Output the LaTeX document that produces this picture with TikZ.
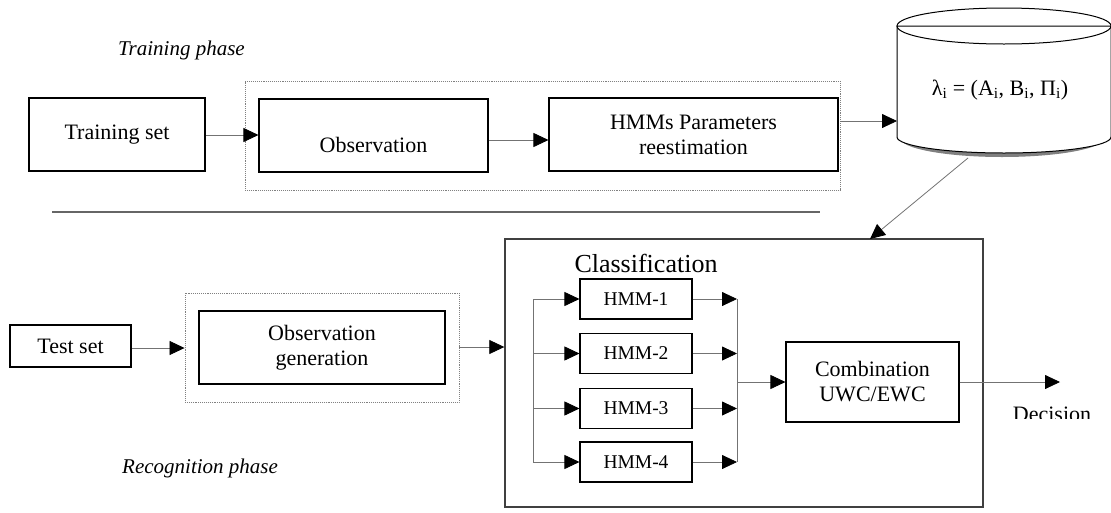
\documentclass[tikz,border=0pt]{standalone}
\usepackage{fontspec}
\setmainfont{Liberation Serif}
\usetikzlibrary{arrows.meta}
\begin{document}
\begin{tikzpicture}[x=1pt,y=-1pt,
  box/.style={draw=black, line width=1.1pt, fill=white, inner sep=0pt, align=center, font=\fontsize{22}{25}\selectfont},
  hmmbox/.style={box, minimum width=112pt, minimum height=40pt, font=\fontsize{19.5}{22}\selectfont},
  frame/.style={draw=black!50, densely dotted, line width=0.9pt, inner sep=0pt},
  conn/.style={draw=black!55, line width=0.8pt},
  arr/.style={conn, -{Triangle[length=15pt,width=14pt,color=black]}},
  lbl/.style={inner sep=0pt, align=center, font=\fontsize{22}{25}\selectfont},
  phase/.style={inner sep=0pt, anchor=base west, font=\fontsize{21}{25}\selectfont\itshape}]
\useasboundingbox (0,0) rectangle (1111,512);

% phase labels
\node[phase] (tp) at (118,55) {Training phase};
\node[phase] (rp) at (122,473) {Recognition phase};

% training row
\node[box, minimum width=176pt, minimum height=73pt] (trainset) at (117,134.5) {Training set};
\node[frame, minimum width=595pt, minimum height=109pt] (f1) at (542.5,135.5) {};
\node[box, minimum width=229pt, minimum height=73pt] (obs) at (373.5,135.5) {};
\node[lbl] (obslbl) at (373.5,145) {Observation};
\node[box, minimum width=289pt, minimum height=73pt] (hmmp) at (693.5,134.5) {HMMs Parameters\\reestimation};

% database cylinder
\fill[black!50] (900,138) arc[start angle=180, end angle=360, x radius=102pt, y radius=19pt] -- cycle;
\filldraw[draw=black, line width=1pt, fill=white] (897,26) -- (897,137)
  arc[start angle=180, end angle=360, x radius=107pt, y radius=16pt] -- (1111,26) -- cycle;
\draw[line width=1pt] (1004,26) ellipse [x radius=107pt, y radius=18pt];
\node[lbl] (lam) at (1000,90) {λ\textsubscript{i} = (A\textsubscript{i}, B\textsubscript{i}, Π\textsubscript{i})};
\coordinate (dbin) at (897,121);
\coordinate (dbout) at (968,158);

% separator
\draw[draw=black!60, line width=1.3pt] (52,212) -- (820,212);

% recognition row
\node[box, minimum width=121pt, minimum height=42pt] (testset) at (70.5,346) {Test set};
\node[frame, minimum width=274pt, minimum height=109pt] (f2) at (322,347.5) {};
\node[box, minimum width=246pt, minimum height=73pt] (obsgen) at (322,347.5) {Observation\\generation};

% classification
\node[draw=black!75, line width=1.4pt, minimum width=478pt, minimum height=268pt, inner sep=0pt] (cls) at (744,373) {};
\node[inner sep=0pt, font=\fontsize{26}{30}\selectfont] (clslbl) at (646,263) {Classification};
\node[hmmbox] (h1) at (636,299) {HMM-1};
\node[hmmbox] (h2) at (636,353.5) {HMM-2};
\node[hmmbox] (h3) at (636,408.5) {HMM-3};
\node[hmmbox] (h4) at (636,462) {HMM-4};
\node[box, minimum width=173pt, minimum height=80pt] (comb) at (872.5,382) {Combination\\UWC/EWC};

\coordinate (lb1) at (533,299);
\coordinate (lb4) at (533,462);
\coordinate (rb1) at (737,299);
\coordinate (rb4) at (737,462);
\coordinate (rbm) at (737,382);
\coordinate (dec) at (1060,382);

\begin{scope}
\clip (990,395) rectangle (1111,418);
\node[lbl, anchor=base] (declbl) at (1052,421.5) {Decision};
\end{scope}

% connectors
\draw[arr] (trainset.east |- 0,135) -- (obs.west |- 0,135);
\draw[arr] (obs.east |- 0,140) -- (hmmp.west |- 0,140);
\draw[arr] (f1.east |- dbin) -- (dbin);
\draw[arr] (dbout) -- (870,239);
\draw[arr] (testset.east |- 0,348) -- (f2.west |- 0,348);
\draw[arr] (f2.east |- 0,347) -- (cls.west |- 0,347);

\draw[conn] (lb1) -- (lb4);
\draw[arr] (lb1) -- (h1.west);
\draw[arr] (lb1 |- h2) -- (h2.west);
\draw[arr] (lb1 |- h3) -- (h3.west);
\draw[arr] (lb4) -- (h4.west);
\draw[conn, line width=1pt] (rb1) -- (rb4);
\draw[arr] (h1.east) -- (rb1);
\draw[arr] (h2.east) -- (rb1 |- h2);
\draw[arr] (h3.east) -- (rb1 |- h3);
\draw[arr] (h4.east) -- (rb4);
\draw[arr] (rbm) -- (comb.west);
\draw[arr] (comb.east) -- (dec);
\end{tikzpicture}
\end{document}
